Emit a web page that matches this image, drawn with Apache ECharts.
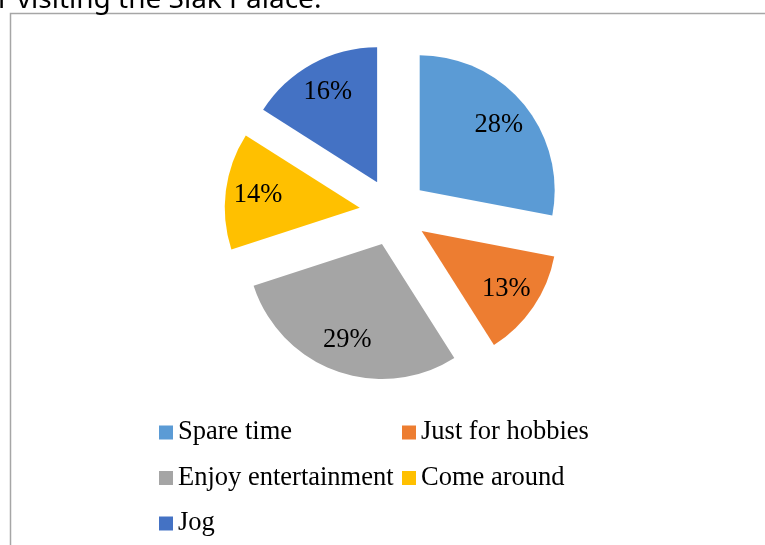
<!DOCTYPE html>
<html>
<head>
<meta charset="utf-8">
<script src="https://cdn.jsdelivr.net/npm/echarts@6/dist/echarts.min.js"></script>
<style>html,body{margin:0;padding:0;background:#fff;}#c{width:765px;height:545px;}</style>
</head>
<body>
<div id="c"></div>
<script>
var categories = ['Spare time', 'Just for hobbies', 'Enjoy entertainment', 'Come around', 'Jog'];
var values = [28, 13, 29, 14, 16];
var colors = ['#5B9BD5', '#ED7D31', '#A5A5A5', '#FFC000', '#4472C4'];
var titleText = 'r visiting the Slak Palace.';

var chart = echarts.init(document.getElementById('c'));
var serif = '"Liberation Serif", "Times New Roman", serif';

var mainData = categories.map(function (n, i) {
  return { name: n, value: values[i], selected: true,
    itemStyle: { color: colors[i] },
    select: { itemStyle: { color: colors[i] } } };
});
var labelData = categories.map(function (n, i) {
  return { name: n, value: values[i], selected: true,
    itemStyle: { color: 'rgba(0,0,0,0)' },
    select: { itemStyle: { color: 'rgba(0,0,0,0)' } } };
});

var legendText = { fontFamily: serif, fontSize: 26.5, color: '#000', lineHeight: 26 };

chart.setOption({
  animation: false,
  title: {
    text: titleText, left: -2, top: -14, padding: 0,
    textStyle: { fontFamily: '"Noto Sans"', fontSize: 28, fontWeight: 'normal', color: '#000' }
  },
  graphic: [{
    type: 'rect', shape: { x: 10.5, y: 13.5, width: 900, height: 700 },
    style: { fill: 'none', stroke: '#a6a6a6', lineWidth: 1.5 }, silent: true
  }],
  legend: [{
    data: [categories[0], categories[2], categories[4]],
    orient: 'vertical', left: 159, top: 419, padding: 0,
    itemWidth: 14, itemHeight: 14, itemGap: 18.5, icon: 'rect',
    textStyle: legendText, selectedMode: false
  }, {
    data: [categories[1], categories[3]],
    orient: 'vertical', left: 402, top: 419, padding: 0,
    itemWidth: 14, itemHeight: 14, itemGap: 18.5, icon: 'rect',
    textStyle: legendText, selectedMode: false
  }],
  series: [{
    type: 'pie', center: [393.5, 212], radius: [0, 135],
    startAngle: 90, clockwise: true,
    selectedMode: 'multiple', selectedOffset: 34,
    label: { show: false }, labelLine: { show: false },
    itemStyle: { borderWidth: 0 },
    emphasis: { disabled: true },
    data: mainData
  }, {
    type: 'pie', center: [393.5, 212], radius: [64, 135],
    startAngle: 90, clockwise: true, silent: true,
    selectedMode: 'multiple', selectedOffset: 34,
    label: { show: true, position: 'inside', formatter: '{c}%',
      fontFamily: serif, fontSize: 26.5, color: '#000' },
    labelLine: { show: false },
    itemStyle: { borderWidth: 0 },
    emphasis: { disabled: true },
    data: labelData
  }]
});
</script>
</body>
</html>
